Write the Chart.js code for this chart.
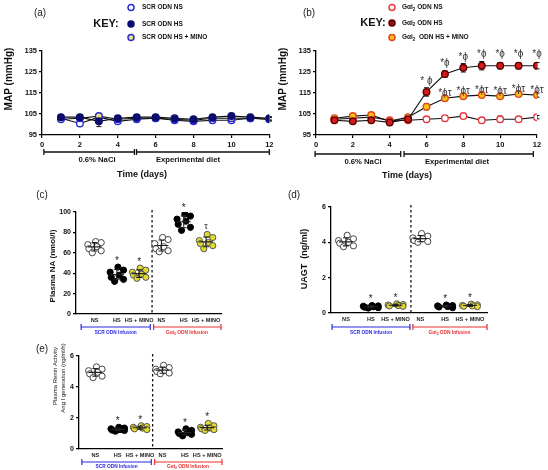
<!DOCTYPE html>
<html>
<head>
<meta charset="utf-8">
<script src="https://cdn.jsdelivr.net/npm/chart.js@4.4.1/dist/chart.umd.min.js"></script>
<style>
  body { margin: 0; background: #fff; }
  #wrap { position: relative; width: 548px; height: 470px; overflow: hidden; }
  canvas { position: absolute; }
</style>
</head>
<body>
<div id="wrap">
  <canvas id="cA" width="274" height="190" style="left:0;top:0"></canvas>
  <canvas id="cB" width="274" height="190" style="left:274px;top:0"></canvas>
  <canvas id="cC" width="274" height="160" style="left:0;top:180px"></canvas>
  <canvas id="cD" width="274" height="160" style="left:274px;top:180px"></canvas>
  <canvas id="cE" width="274" height="130" style="left:0;top:340px"></canvas>
</div>
<script>
const FF = "'Liberation Sans', Arial, sans-serif";
Chart.defaults.font.family = FF;
Chart.defaults.animation = false;
Chart.defaults.plugins.legend.display = false;
Chart.defaults.plugins.tooltip.enabled = false;

// time course, MAP (mmHg)
const days = [1, 2, 3, 4, 5, 6, 7, 8, 9, 10, 11, 12];
const scrNS = [103, 100.5, 103.5, 101.5, 102.5, 103, 102, 101.5, 102, 102, 103, 102.5];
const scrNSErr = [1, 1, 1.2, 0.8, 0.8, 0.8, 0.8, 1, 0.8, 0.8, 0.8, 0.8];
const scrHS = [103.5, 103.5, 101.5, 103, 103.5, 103.5, 103, 102.5, 103.5, 104, 103.5, 103];
const scrHSErr = [1, 0.8, 2.5, 0.8, 0.8, 1, 0.8, 0.8, 0.8, 0.8, 0.8, 0.8];
const scrMino = [102.5, 103, 104, 102.5, 103, 103, 102.5, 102, 103, 103, 103, 102.5];
const scrMinoErr = [1, 0.8, 1, 0.8, 0.8, 0.8, 0.8, 0.8, 0.8, 0.8, 0.8, 0.8];

const gaiNS = [102.5, 103, 103.5, 102, 102, 102.5, 103, 104, 102, 102.5, 102.5, 103.5];
const gaiNSErr = [1, 1, 1, 1, 1, 1.2, 1.2, 1, 1.2, 1.5, 1, 0.8];
const gaiHS = [102, 101.5, 102, 101, 102.5, 115.5, 124, 127, 128, 128, 128, 128];
const gaiHSErr = [1, 1, 1, 1, 1, 2, 1.5, 2, 2, 1.5, 1.5, 1.5];
const gaiMino = [103, 104, 104.5, 101.5, 103.5, 108.5, 112.5, 113.5, 114, 113.5, 114.5, 114];
const gaiMinoErr = [1, 1, 1, 1, 1, 1.5, 1.2, 1, 1, 1, 1, 1];
const hsMarks = ['', '', '', '', '', '* \u03d5', '*\u03d5', '*\u03d5', '*\u03d5', '*\u03d5', '*\u03d5', '*\u03d5'];
const minoMarks = ['', '', '', '', '', '', '*\u03d5\u03c4', '*\u03d5\u03c4', '*\u03d5\u03c4', '*\u03d5\u03c4', '*\u03d5\u03c4', '*\u03d5\u03c4'];

// end-point groups: SCR NS, SCR HS, SCR HS+MINO, Gai2 NS, Gai2 HS, Gai2 HS+MINO
const catLabels = ['NS', 'HS', 'HS + MINO', 'NS', 'HS', 'HS + MINO'];
const naValues = [
  [71, 70, 68, 66, 64, 62, 60],
  [46, 43, 41, 38, 36, 34, 32],
  [45, 43, 41, 39, 38, 36, 35],
  [75, 73, 69, 66, 64, 62, 61],
  [98, 96, 93, 91, 88, 85, 82],
  [78, 75, 72, 70, 69, 67, 64]
];
const naMarks = ['', '*', '*', '', '*', '\u03c4'];
const uagtValues = [
  [4.4, 4.2, 4.1, 4.0, 3.95, 3.8, 3.75],
  [0.42, 0.4, 0.38, 0.35, 0.33, 0.3, 0.28],
  [0.52, 0.48, 0.45, 0.42, 0.4, 0.38],
  [4.5, 4.35, 4.25, 4.2, 4.1, 4.05, 4.0],
  [0.45, 0.42, 0.4, 0.37, 0.34, 0.3],
  [0.5, 0.46, 0.43, 0.4, 0.38, 0.36]
];
const uagtMarks = ['', '*', '*', '', '*', '*'];
const reninValues = [
  [5.3, 5.15, 5.05, 4.95, 4.85, 4.7, 4.6],
  [1.4, 1.35, 1.3, 1.25, 1.22, 1.2, 1.15],
  [1.5, 1.45, 1.4, 1.35, 1.3, 1.25],
  [5.4, 5.25, 5.15, 5.05, 5.0, 4.9, 4.85],
  [1.3, 1.2, 1.1, 1.05, 1.0, 0.95, 0.85],
  [1.65, 1.5, 1.4, 1.35, 1.3, 1.25, 1.2]
];
const reninMarks = ['', '*', '*', '', '*', '*'];

// horizontal spread of dots inside a group (category units)
const JIT = [0.05, 0.3, -0.3, 0.1, -0.25, 0.3, -0.1];
const GROUP_FILL = ['#ffffff', '#000000', '#e3d92e', '#ffffff', '#000000', '#e3d92e'];
const GROUP_LINE = ['#444444', '#000000', '#555555', '#444444', '#000000', '#555555'];

// ---------- helpers ----------
function T(ctx, s, x, y, font, color, align, rot) {
  ctx.save();
  ctx.font = font + ' ' + FF;
  ctx.fillStyle = color || '#111';
  ctx.textAlign = align || 'center';
  ctx.textBaseline = 'middle';
  ctx.translate(x, y);
  if (rot) ctx.rotate(rot);
  ctx.fillText(s, 0, 0);
  ctx.restore();
}
function dot(ctx, x, y, r, fill, stroke, lw) {
  ctx.beginPath();
  ctx.arc(x, y, r, 0, Math.PI * 2);
  ctx.fillStyle = fill; ctx.fill();
  ctx.lineWidth = lw; ctx.strokeStyle = stroke; ctx.stroke();
}
function bracket(ctx, x1, x2, y, color, lw) {
  ctx.save();
  ctx.strokeStyle = color; ctx.lineWidth = lw || 1.3;
  ctx.beginPath();
  ctx.moveTo(x1, y); ctx.lineTo(x2, y);
  ctx.moveTo(x1, y - 3); ctx.lineTo(x1, y + 3);
  ctx.moveTo(x2, y - 3); ctx.lineTo(x2, y + 3);
  ctx.stroke();
  ctx.restore();
}
function gai(ctx, x, y, rest, size, color) {
  ctx.save();
  ctx.fillStyle = color; ctx.textAlign = 'left'; ctx.textBaseline = 'middle';
  ctx.font = 'bold ' + size + 'px ' + FF;
  ctx.fillText('G\u03b1i', x, y);
  let w = ctx.measureText('G\u03b1i').width;
  ctx.font = 'bold ' + (size * 0.7) + 'px ' + FF;
  ctx.fillText('2', x + w, y + size * 0.3);
  w += ctx.measureText('2').width;
  ctx.font = 'bold ' + size + 'px ' + FF;
  ctx.fillText(rest, x + w, y);
  ctx.restore();
}
function frame(f, xh) {
  return { padding: { left: 0, top: f.t, right: f.w - f.r, bottom: f.h - f.b - xh } };
}
function yFit(f) { return s => { s.width = f.l; s.paddingTop = 0; s.paddingBottom = 0; }; }
function xFit(xh) { return s => { s.height = xh; s.paddingLeft = 0; s.paddingRight = 0; }; }
function axis(min, max, step, size, fit, extra) {
  const a = {
    type: 'linear', min: min, max: max,
    ticks: { stepSize: step, color: '#111', font: { size: size, weight: 'bold' }, padding: 2 },
    grid: { drawOnChartArea: false, color: '#000', lineWidth: 1.2, tickLength: 3 },
    border: { color: '#000', width: 1.3 },
    afterFit: fit
  };
  return Object.assign(a, extra || {});
}

// ---------- time-course charts ----------
function lineChart(id, f, sets, extra) {
  return new Chart(document.getElementById(id), {
    type: 'line',
    data: {
      datasets: sets.map(s => ({
        data: days.map((d, i) => ({ x: d, y: s.vals[i] })),
        errs: s.errs, marks: s.marks, markGap: s.markGap,
        borderColor: '#111', borderWidth: 1.1, tension: 0,
        pointRadius: 3.3, pointHoverRadius: 3.3,
        pointBackgroundColor: s.fill, pointBorderColor: s.stroke, pointBorderWidth: 1.4
      }))
    },
    options: {
      responsive: false, devicePixelRatio: 1,
      layout: frame(f, 16),
      scales: {
        x: axis(0, 12, 2, 7.5, xFit(16)),
        y: axis(95, 135, 10, 7.5, yFit(f))
      }
    },
    plugins: [{
      id: 'errs',
      beforeDatasetsDraw(c) {
        const ctx = c.ctx, xs = c.scales.x, ys = c.scales.y;
        ctx.save();
        ctx.strokeStyle = '#111'; ctx.lineWidth = 1;
        c.data.datasets.forEach(ds => {
          ds.data.forEach((p, i) => {
            const x = xs.getPixelForValue(p.x);
            const y1 = ys.getPixelForValue(p.y - ds.errs[i]);
            const y2 = ys.getPixelForValue(p.y + ds.errs[i]);
            ctx.beginPath();
            ctx.moveTo(x, y1); ctx.lineTo(x, y2);
            ctx.moveTo(x - 2.5, y1); ctx.lineTo(x + 2.5, y1);
            ctx.moveTo(x - 2.5, y2); ctx.lineTo(x + 2.5, y2);
            ctx.stroke();
          });
        });
        ctx.restore();
      },
      afterDraw(c) {
        const ctx = c.ctx, xs = c.scales.x, ys = c.scales.y;
        c.data.datasets.forEach(ds => {
          if (!ds.marks) return;
          ds.data.forEach((p, i) => {
            if (ds.marks[i]) T(ctx, ds.marks[i], xs.getPixelForValue(p.x), ys.getPixelForValue(p.y) - ds.markGap, '10px', '#333');
          });
        });
        extra(c, ctx);
      }
    }]
  });
}

const fA = { w: 274, h: 190, l: 42, t: 51, r: 273, b: 135 };
lineChart('cA', fA, [
  { vals: scrHS, errs: scrHSErr, fill: '#0c0c6e', stroke: '#0c0c6e' },
  { vals: scrMino, errs: scrMinoErr, fill: '#efe680', stroke: '#2b2bd1' },
  { vals: scrNS, errs: scrNSErr, fill: '#ffffff', stroke: '#2b2bd1' }
], (c, ctx) => {
  const xs = c.scales.x;
  T(ctx, '(a)', 40, 13, '10px', '#222');
  T(ctx, 'KEY:', 106, 24, 'bold 11px', '#111');
  dot(ctx, 131, 7.5, 3, '#fff', '#2b2bd1', 1.5);
  dot(ctx, 131, 24, 3, '#0c0c6e', '#0c0c6e', 1.5);
  dot(ctx, 131, 37.5, 3, '#efe680', '#2b2bd1', 1.5);
  T(ctx, 'SCR ODN NS', 142, 7.5, 'bold 6.5px', '#111', 'left');
  T(ctx, 'SCR ODN HS', 142, 24, 'bold 6.5px', '#111', 'left');
  T(ctx, 'SCR ODN HS + MINO', 142, 37.5, 'bold 6.5px', '#111', 'left');
  T(ctx, 'MAP (mmHg)', 9, 79, 'bold 10px', '#111', 'center', -Math.PI / 2);
  bracket(ctx, xs.getPixelForValue(0.1), xs.getPixelForValue(4.88), 152, '#111');
  bracket(ctx, xs.getPixelForValue(4.99), xs.getPixelForValue(12), 152, '#111');
  T(ctx, '0.6% NaCl', 97, 160, 'bold 7.7px', '#111');
  T(ctx, 'Experimental diet', 188, 160, 'bold 7.7px', '#111');
  T(ctx, 'Time (days)', 142, 175, 'bold 9px', '#111');
});

const fB = { w: 274, h: 190, l: 42, t: 51, r: 263, b: 135 };
lineChart('cB', fB, [
  { vals: gaiHS, errs: gaiHSErr, fill: '#d41a1a', stroke: '#5a0000', marks: hsMarks, markGap: 11 },
  { vals: gaiMino, errs: gaiMinoErr, fill: '#f7c019', stroke: '#e4461c', marks: minoMarks, markGap: 5 },
  { vals: gaiNS, errs: gaiNSErr, fill: '#ffffff', stroke: '#e8383d' }
], (c, ctx) => {
  const xs = c.scales.x;
  T(ctx, '(b)', 35, 13, '10px', '#222');
  T(ctx, 'KEY:', 99, 23, 'bold 11px', '#111');
  dot(ctx, 118, 7.5, 3, '#fff', '#e8383d', 1.5);
  dot(ctx, 118, 23, 3, '#9a0c0c', '#5a0000', 1.5);
  dot(ctx, 118, 37.5, 3, '#f7c019', '#e4461c', 1.5);
  gai(ctx, 128, 7.5, ' ODN NS', 6.5, '#111');
  gai(ctx, 128, 23, ' ODN HS', 6.5, '#111');
  gai(ctx, 128, 37.5, '  ODN HS + MINO', 6.5, '#111');
  T(ctx, 'MAP (mmHg)', 9, 79, 'bold 10px', '#111', 'center', -Math.PI / 2);
  bracket(ctx, xs.getPixelForValue(-0.05), xs.getPixelForValue(4.6), 154, '#111');
  bracket(ctx, xs.getPixelForValue(4.78), xs.getPixelForValue(11.8), 154, '#111');
  T(ctx, '0.6% NaCl', 89, 162, 'bold 7.7px', '#111');
  T(ctx, 'Experimental diet', 183, 162, 'bold 7.7px', '#111');
  T(ctx, 'Time (days)', 133, 176, 'bold 9px', '#111');
});

// ---------- end-point dot plots ----------
function dotChart(id, f, cfg, extra) {
  const mean = a => a.reduce((s, v) => s + v, 0) / a.length;
  const sd = a => { const m = mean(a); return Math.sqrt(a.reduce((s, v) => s + (v - m) * (v - m), 0) / (a.length - 1)); };
  return new Chart(document.getElementById(id), {
    type: 'scatter',
    data: {
      datasets: cfg.groups.map((g, gi) => ({
        data: g.map((v, i) => ({ x: gi + 1 + JIT[i % JIT.length], y: v })),
        pointRadius: 3.1, pointHoverRadius: 3.1, pointBorderWidth: 1,
        pointBackgroundColor: GROUP_FILL[gi], pointBorderColor: GROUP_LINE[gi]
      }))
    },
    options: {
      responsive: false, devicePixelRatio: 1,
      layout: frame(f, 12),
      scales: {
        x: axis(cfg.xmin, cfg.xmax, 1, 5.6, xFit(12), {
          ticks: { display: false },
          grid: { display: false }
        }),
        y: axis(0, cfg.ymax, cfg.ystep, 7, yFit(f))
      }
    },
    plugins: [{
      id: 'dots',
      beforeDatasetsDraw(c) {
        const ctx = c.ctx, xs = c.scales.x, a = c.chartArea;
        const x = xs.getPixelForValue(cfg.divider);
        ctx.save();
        ctx.strokeStyle = '#111'; ctx.lineWidth = 1.3; ctx.setLineDash([2.5, 2.5]);
        ctx.beginPath(); ctx.moveTo(x, a.top - 2); ctx.lineTo(x, a.bottom); ctx.stroke();
        ctx.restore();
      },
      afterDatasetsDraw(c) {
        const ctx = c.ctx, xs = c.scales.x, ys = c.scales.y;
        ctx.save();
        ctx.strokeStyle = '#222'; ctx.lineWidth = 1.1;
        cfg.groups.forEach((g, gi) => {
          const x = xs.getPixelForValue(gi + 1);
          const m = mean(g), s = sd(g);
          const ym = ys.getPixelForValue(m), y1 = ys.getPixelForValue(m - s), y2 = ys.getPixelForValue(m + s);
          ctx.beginPath();
          ctx.moveTo(x - 7, ym); ctx.lineTo(x + 7, ym);
          ctx.moveTo(x, y1); ctx.lineTo(x, y2);
          ctx.moveTo(x - 3, y1); ctx.lineTo(x + 3, y1);
          ctx.moveTo(x - 3, y2); ctx.lineTo(x + 3, y2);
          ctx.stroke();
          if (cfg.marks[gi]) {
            const top = ys.getPixelForValue(Math.max.apply(null, g));
            const star = cfg.marks[gi] === '*';
            T(ctx, cfg.marks[gi], x, top - 8 + (star ? 2 : 0), star ? '10px' : '9px', '#222');
          }
        });
        ctx.restore();
      },
      afterDraw(c) {
        const xs = c.scales.x, a = c.chartArea;
        catLabels.forEach((lab, i) => {
          T(c.ctx, lab, xs.getPixelForValue(i + 1), a.bottom + 6.5, 'bold 5.6px', '#222');
        });
        extra(c, c.ctx);
      }
    }]
  });
}

function infusion(ctx, xs, y, ty, blue, red) {
  bracket(ctx, xs.getPixelForValue(blue[0]), xs.getPixelForValue(blue[1]), y, '#2a2ae0', 1.2);
  bracket(ctx, xs.getPixelForValue(red[0]), xs.getPixelForValue(red[1]), y, '#e83030', 1.2);
  T(ctx, 'SCR ODN Infusion', xs.getPixelForValue((blue[0] + blue[1]) / 2), ty, 'bold 4.8px', '#2a2ae0');
  ctx.save();
  ctx.font = 'bold 4.8px ' + FF;
  const w = ctx.measureText('G\u03b1i2 ODN Infusion').width;
  ctx.restore();
  gai(ctx, xs.getPixelForValue((red[0] + red[1]) / 2) - w / 2, ty, ' ODN Infusion', 4.8, '#e83030');
}

const fC = { w: 274, h: 160, l: 76, t: 32, r: 221, b: 134 };
dotChart('cC', fC, { groups: naValues, marks: naMarks, xmin: 0.17, xmax: 6.67, divider: 3.58, ymax: 100, ystep: 20 }, (c, ctx) => {
  T(ctx, '(c)', 42, 15, '10px', '#222');
  T(ctx, 'Plasma NA (nmol/l)', 53, 86, 'bold 8px', '#111', 'center', -Math.PI / 2);
  infusion(ctx, c.scales.x, 147, 153, [0.4, 3.5], [3.65, 6.67]);
});

const fD = { w: 274, h: 160, l: 57, t: 27, r: 213, b: 133 };
dotChart('cD', fD, { groups: uagtValues, marks: uagtMarks, xmin: 0.395, xmax: 6.69, divider: 3.62, ymax: 6, ystep: 2 }, (c, ctx) => {
  T(ctx, '(d)', 20, 15, '10px', '#222');
  T(ctx, 'UAGT  (ng/ml)', 31, 79, 'bold 9px', '#111', 'center', -Math.PI / 2);
  infusion(ctx, c.scales.x, 147, 153, [0.44, 3.58], [3.7, 6.69]);
});

const fE = { w: 274, h: 130, l: 79, t: 16, r: 222, b: 109 };
dotChart('cE', fE, { groups: reninValues, marks: reninMarks, xmin: 0.27, xmax: 6.66, divider: 3.56, ymax: 6, ystep: 2 }, (c, ctx) => {
  T(ctx, '(e)', 42, 9, '10px', '#222');
  T(ctx, 'Plasma Renin Activity', 55, 36, '6px', '#111', 'center', -Math.PI / 2);
  T(ctx, 'Ang I generation (ng/ml/h)', 63, 38, '6px', '#111', 'center', -Math.PI / 2);
  infusion(ctx, c.scales.x, 122, 127, [0.4, 3.5], [3.65, 6.66]);
});
</script>
</body>
</html>
